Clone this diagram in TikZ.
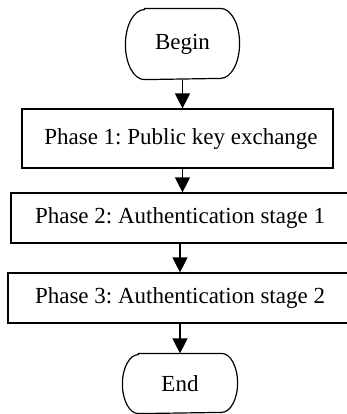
\documentclass[tikz,border=0pt]{standalone}
\usepackage{fontspec}
\setmainfont{Liberation Serif}
\usepackage{tikz}
\usetikzlibrary{arrows.meta, positioning}
\frenchspacing

% start/end box with elliptical ends
\newcommand{\capsule}[3]{\draw ([xshift=#2]#1.north west) -- ([xshift=-#2]#1.north east)
        arc[start angle=90, end angle=-90, x radius=#2, y radius=#3]
        -- ([xshift=#2]#1.south west)
        arc[start angle=270, end angle=90, x radius=#2, y radius=#3] -- cycle;}

\begin{document}
\begin{tikzpicture}[on grid, line width=0.6pt, font=\fontsize{11.5}{13}\selectfont,
        terminal/.style={rectangle, inner sep=0pt},
        phase/.style={rectangle, draw, inner sep=0pt, minimum height=25pt},
        flow/.style={-{Triangle[length=7.5pt, width=7.5pt]}}]
                \useasboundingbox (0,0) rectangle (173.5pt,-207pt);
                \node[terminal, minimum width=56.5pt, minimum height=35pt] (begin) at (91.25pt,-22pt) {Begin};
                \node[phase, minimum width=155.5pt, minimum height=29.5pt] (p1) [below=47.25pt of begin, xshift=-2.5pt] {\hspace*{3.5pt}Phase 1: Public key exchange};
                \node[phase, minimum width=169pt] (p2) [below=39.75pt of p1, xshift=1.25pt] {Phase 2: Authentication stage 1};
                \node[phase, minimum width=172pt] (p3) [below=40pt of p2] {Phase 3: Authentication stage 2};
                \node[terminal, minimum width=57pt, minimum height=29.5pt] (end) [below=42.75pt of p3] {End};
                \capsule{begin}{9.5pt}{17.5pt}
                \capsule{end}{8pt}{14.75pt}
                \draw[flow] (begin.south) -- (begin.south |- p1.north);
                \draw[flow] (begin.south |- p1.south) -- (begin.south |- p2.north);
                \draw[flow] (p2.south) -- (p3.north);
                \draw[flow] (p3.south) -- (end.north);
        \end{tikzpicture}
\end{document}
